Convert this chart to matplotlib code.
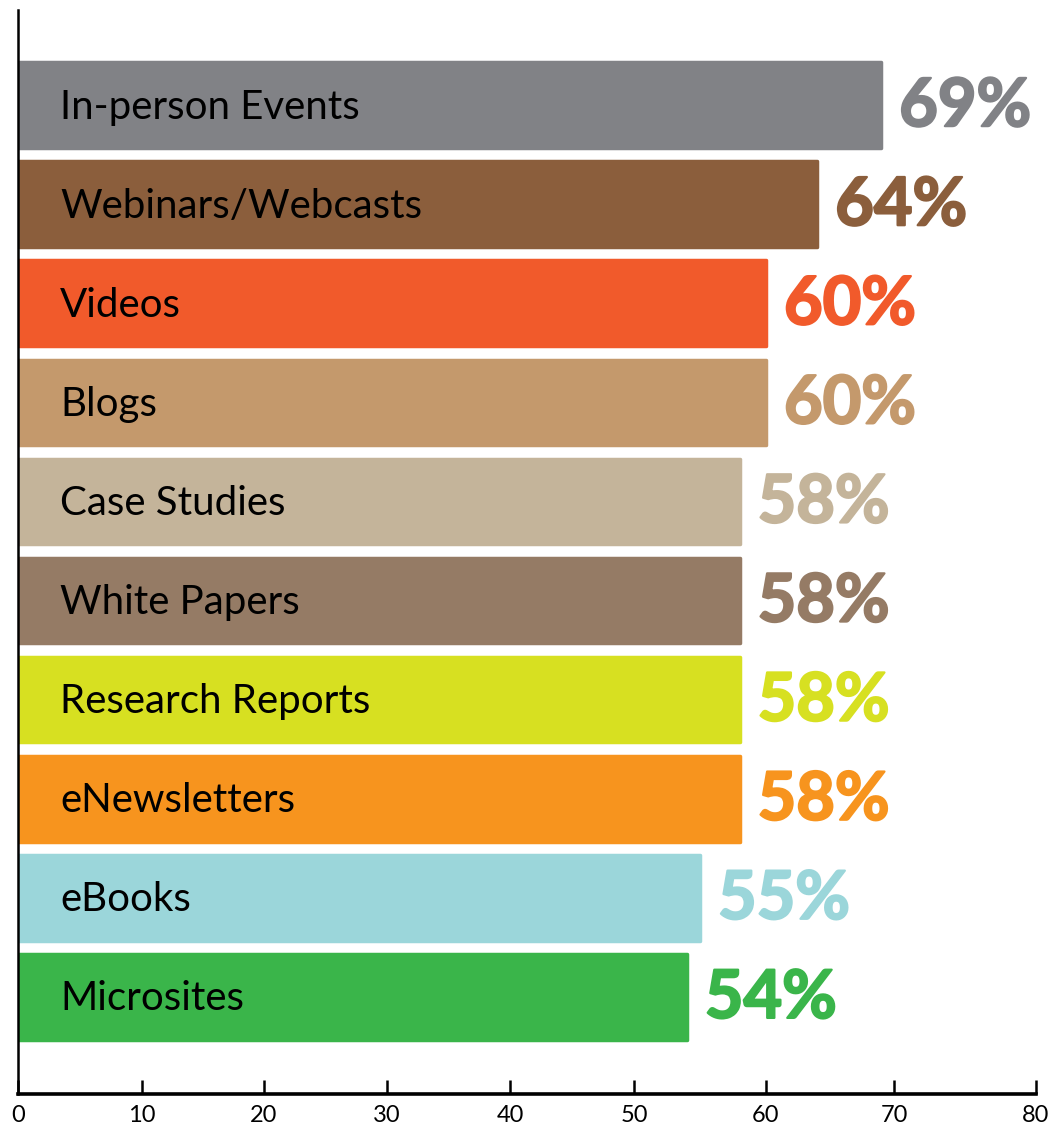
import numpy as np
import matplotlib
matplotlib.use("Agg")
from matplotlib import pyplot as plt
from matplotlib import patheffects

# data
categories = ["In-person Events", "Webinars/Webcasts", "Videos", "Blogs",
              "Case Studies", "White Papers", "Research Reports",
              "eNewsletters", "eBooks", "Microsites"]
values = [69, 64, 60, 60, 58, 58, 58, 58, 55, 54]
colors = ["#818286", "#8B5E3C", "#F15A2B", "#C4996C", "#C4B49A",
          "#957B65", "#D7E021", "#F7941E", "#9BD6DA", "#3AB54A"]
ticks = [0, 10, 20, 30, 40, 50, 60, 70, 80]

# the reference axis is not evenly spaced; positions of its ticks (pixels)
tick_px = [18, 142, 264, 387, 510, 634, 766, 894, 1036]

FONT = ["Lato", "DejaVu Sans"]
plt.rcParams["font.family"] = FONT

fig = plt.figure(figsize=(10.49, 11.30), dpi=100)
ax = fig.add_axes([18 / 1049, 36 / 1130, (1036 - 18) / 1049, (1120 - 36) / 1130])

fwd = lambda x: np.interp(x, ticks, tick_px)
inv = lambda p: np.interp(p, tick_px, ticks)
ax.set_xscale("function", functions=(fwd, inv))

y = np.arange(len(categories))
bars = ax.barh(y, values, height=0.865, color=colors,
               edgecolor=colors, linewidth=2.5, zorder=2)
for b in bars:
    b.set_joinstyle("round")

for yi, cat, v, c in zip(y, categories, values, colors):
    ax.text(3.4, yi + 0.02, cat, va="center", ha="left", fontsize=29,
            color="black", zorder=3)
    ax.annotate(f"{v}%", (v, yi), xytext=(18, -2), textcoords="offset pixels",
                va="center", ha="left", fontsize=48, fontweight="bold",
                color=c, zorder=3,
                path_effects=[patheffects.withStroke(linewidth=1.6, foreground=c)])

ax.set_xlim(0, 80)
ax.set_ylim(9.98, -0.96)
ax.set_xticks(ticks)
ax.set_xticklabels([str(t) for t in ticks], fontsize=17)
ax.set_yticks([])
ax.tick_params(axis="x", direction="in", length=10, width=1.8, pad=8)
ax.spines[["top", "right"]].set_visible(False)
ax.spines["bottom"].set_linewidth(2.6)
ax.spines["left"].set_linewidth(1.8)
for s in ax.spines.values():
    s.set_zorder(4)

fig.savefig("out.png", dpi=100)
